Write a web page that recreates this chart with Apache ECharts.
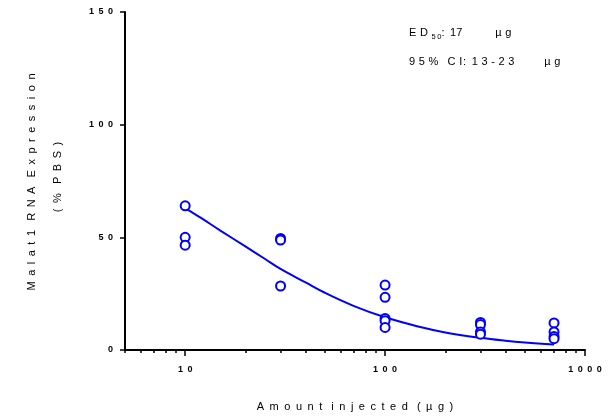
<!DOCTYPE html>
<html>
<head>
<meta charset="utf-8">
<script src="https://cdn.jsdelivr.net/npm/echarts@6/dist/echarts.min.js"></script>
<style>
  html, body { margin: 0; padding: 0; background: #fff; }
  #chart { width: 608px; height: 417px; }
</style>
</head>
<body>
<div id="chart"></div>
<script>
// Dose levels (µg) and the replicate responses measured at each
const doseLevels = [10, 30, 100, 300, 700];
const responses = [
  [64, 50, 46.5],
  [49.5, 48.8, 28.4],
  [28.8, 23.4, 14, 13, 10],
  [12.2, 11.3, 8, 7],
  [12, 8, 6, 5]
];

// Fitted dose-response curve, sampled along the dose range
const curveDose = [10, 12, 15, 20, 25, 30, 40, 50, 70, 100, 150, 200, 300, 400, 500, 700];
const curveResp = [63, 58.6, 53, 46, 40.5, 36, 30, 25.4, 19.5, 14.5, 10.2, 7.8, 5.4, 4.1, 3.3, 2.4];

// Axis ticks
const xMajorTicks = [10, 100, 1000];
const xMinorTicks = [5, 6, 7, 8, 9, 20, 30, 40, 50, 60, 70, 80, 90, 200, 300, 400, 500, 600, 700, 800, 900];

const FONT = "'Liberation Sans', Arial, sans-serif";
const BLUE = '#0000ff';

// Letter-spacing is done with Unicode space characters of fixed em widths
const EN = '\u2002', T = '\u2004', HAIR = '\u200A', THIN = '\u2009', EM = '\u2003';
const WORD = EN + T;
const spread = (s, gap) => s.split('').join(gap);
const track = (s, letterGap, wordGap) => s.split(' ').map(w => spread(w, letterGap)).join(wordGap);

const points = [];
doseLevels.forEach((d, i) => responses[i].forEach(v => points.push([d, v])));

const chart = echarts.init(document.getElementById('chart'), null, { renderer: 'canvas' });

const logAxisBase = {
  type: 'log',
  logBase: 10,
  min: 5,
  max: 1000,
  gridIndex: 0,
  position: 'bottom',
  splitLine: { show: false },
  minorTick: { show: false },
  minorSplitLine: { show: false }
};

const textFont = '11px ' + FONT;

// Annotation lines: ED50 and its confidence interval
const ed50Text = '{t|E' + T + 'D' + T + '}{s|5' + THIN + '0}{t|:' + EN + '17' +
                 EM + EM + EN + EN + '\u00b5' + T + 'g}';
const ciText = '9' + T + '5' + T + '%' + WORD + 'C' + T + 'I' + HAIR + ':' + EN +
               spread('13-23', T) + EM + EM + EN + THIN + '\u00b5' + T + 'g';

chart.setOption({
  animation: false,
  backgroundColor: '#fff',
  grid: { left: 125, right: 23, top: 12, bottom: 67, containLabel: false },
  xAxis: [
    Object.assign({}, logAxisBase, {
      axisLine: { show: true, lineStyle: { color: '#000', width: 2 } },
      axisTick: { show: true, length: 6, inside: false, customValues: xMajorTicks, lineStyle: { color: '#000', width: 1.5 } },
      axisLabel: {
        show: true,
        customValues: xMajorTicks,
        margin: 15,
        fontFamily: FONT,
        fontSize: 9,
        fontWeight: 'bold',
        color: '#000',
        formatter: v => spread(String(Math.round(v)), EN)
      }
    }),
    Object.assign({}, logAxisBase, {
      axisLine: { show: false },
      axisTick: { show: true, length: 3, inside: false, customValues: xMinorTicks, lineStyle: { color: '#000', width: 1.5 } },
      axisLabel: { show: false }
    })
  ],
  yAxis: {
    type: 'value',
    min: 0,
    max: 150,
    interval: 50,
    splitLine: { show: false },
    axisLine: { show: true, lineStyle: { color: '#000', width: 2 } },
    axisTick: { show: true, length: 5, inside: false, lineStyle: { color: '#000', width: 1.5 } },
    axisLabel: {
      margin: 12,
      fontFamily: FONT,
      fontSize: 9,
      fontWeight: 'bold',
      color: '#000',
      formatter: v => spread(String(v), EN)
    }
  },
  series: [
    {
      type: 'line',
      xAxisIndex: 0,
      data: curveDose.map((d, i) => [d, curveResp[i]]),
      smooth: 0.4,
      showSymbol: false,
      lineStyle: { color: BLUE, width: 2 },
      z: 2
    },
    {
      type: 'scatter',
      xAxisIndex: 0,
      data: points,
      symbol: 'circle',
      symbolSize: 9,
      itemStyle: { color: '#fff', borderColor: BLUE, borderWidth: 2, opacity: 1 },
      z: 3
    }
  ],
  graphic: [
    {
      type: 'text',
      x: 32, y: 182,
      rotation: Math.PI / 2,
      style: {
        text: track('Malat1 RNA Expression', EN, WORD),
        font: textFont,
        fill: '#000',
        textAlign: 'center',
        textVerticalAlign: 'middle'
      }
    },
    {
      type: 'text',
      x: 58, y: 177,
      rotation: Math.PI / 2,
      style: {
        text: track('(% PBS)', EN, WORD),
        font: textFont,
        fill: '#000',
        textAlign: 'center',
        textVerticalAlign: 'middle'
      }
    },
    {
      type: 'text',
      x: 355, y: 407,
      style: {
        text: track('Amount injected (\u00b5g)', EN, WORD),
        font: textFont,
        fill: '#000',
        textAlign: 'center',
        textVerticalAlign: 'middle'
      }
    },
    {
      type: 'text',
      x: 409, y: 33,
      style: {
        rich: {
          t: { font: textFont, fill: '#000' },
          s: { font: '7.5px ' + FONT, fill: '#000', padding: [8, 0, 0, 0] }
        },
        text: ed50Text,
        textVerticalAlign: 'middle'
      }
    },
    {
      type: 'text',
      x: 409, y: 62,
      style: {
        text: ciText,
        font: textFont,
        fill: '#000',
        textVerticalAlign: 'middle'
      }
    }
  ]
});
</script>
</body>
</html>
